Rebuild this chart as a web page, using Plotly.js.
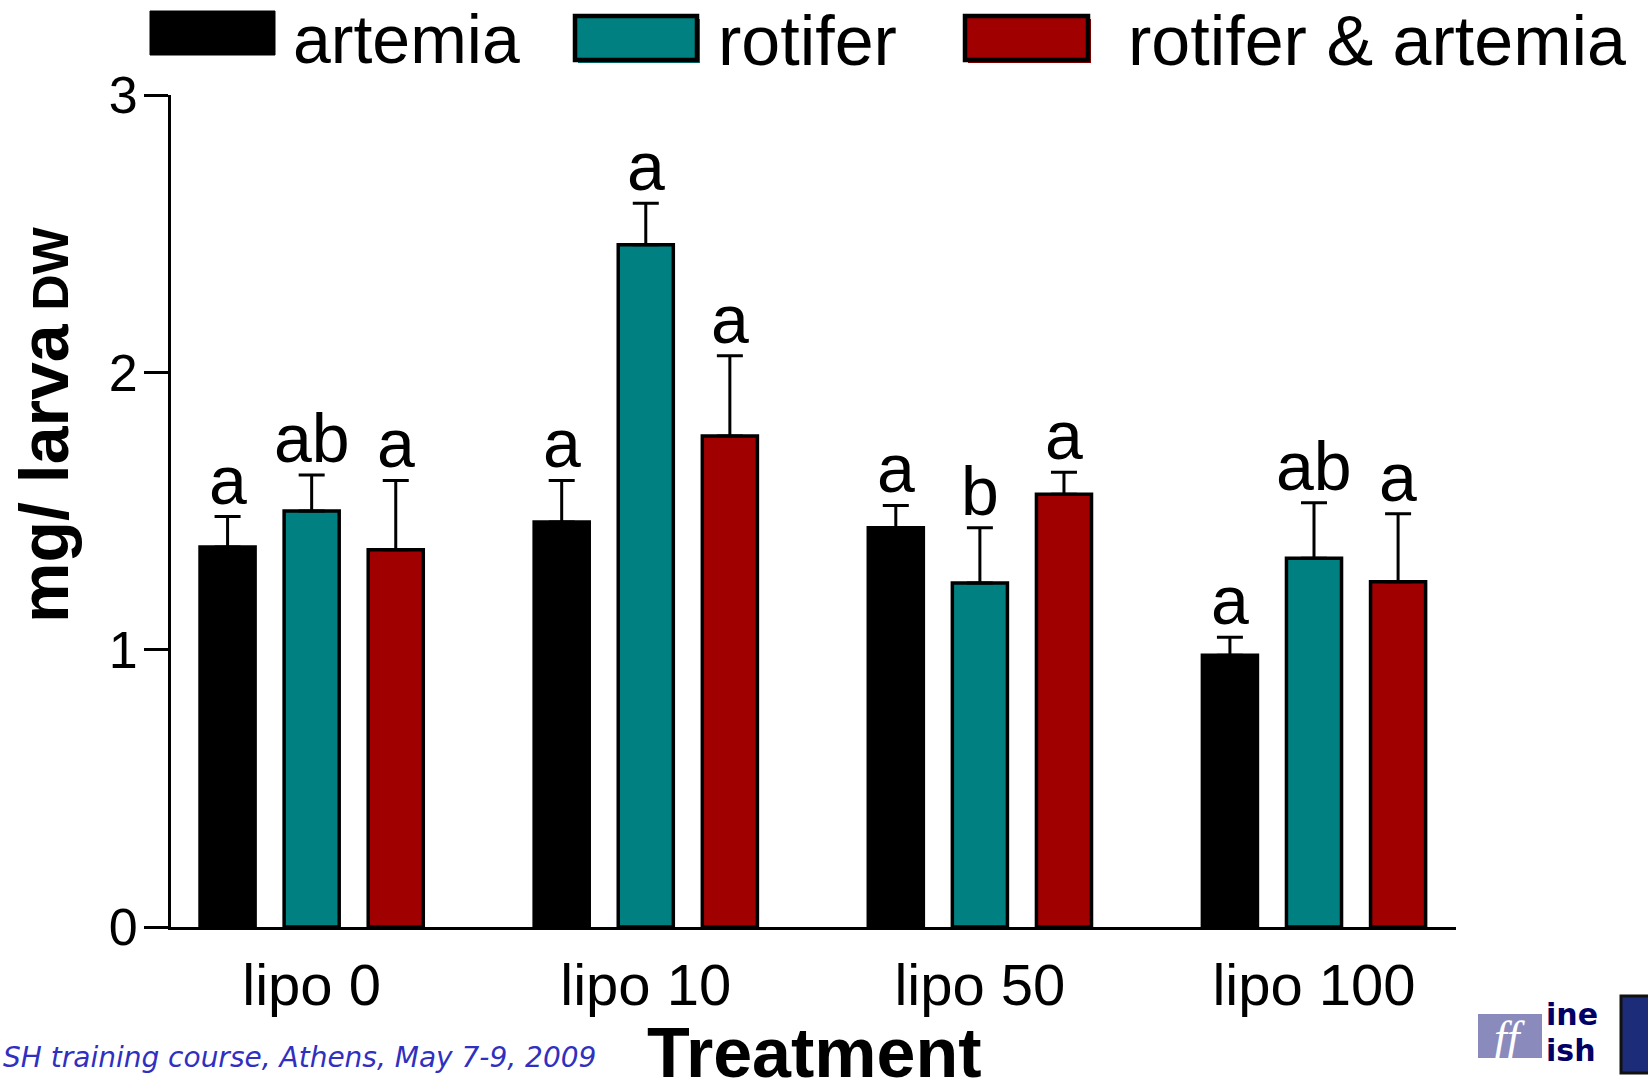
<!DOCTYPE html>
<html><head><meta charset="utf-8">
<script src="https://cdn.plot.ly/plotly-3.0.1.min.js"></script>
<style>html,body{margin:0;padding:0;background:#fff;} #chart{width:1648px;height:1092px;}</style>
</head><body><div id="chart"></div>
<script>
// ---- data ----
const categories = ['lipo 0', 'lipo 10', 'lipo 50', 'lipo 100'];
const seriesNames = ['artemia', 'rotifer', 'rotifer & artemia'];
const artemia = [1.37, 1.46, 1.44, 0.98];
const artemiaErr = [0.11, 0.15, 0.08, 0.065];
const rotifer = [1.50, 2.46, 1.24, 1.33];
const rotiferErr = [0.13, 0.15, 0.20, 0.20];
const rotArt = [1.36, 1.77, 1.56, 1.245];
const rotArtErr = [0.25, 0.29, 0.08, 0.245];
const artemiaLetters = ['a', 'a', 'a', 'a'];
const rotiferLetters = ['ab', 'a', 'b', 'ab'];
const rotArtLetters = ['a', 'a', 'a', 'a'];
const yTicks = [0, 1, 2, 3];
const yTitle = 'mg/ larva';
const yTitleUnit = 'DW';
const xTitle = 'Treatment';
const footer = 'SH training course, Athens, May 7-9, 2009';

// ---- geometry / style ----
const W = 1648, H = 1092;
const L = 171, R = 1456, T = 95, B = 927;
const px = v => (v - L) / (R - L);
const py = v => (B - v) / (B - T);
const xRange = [-0.421, 3.425];
const bargap = 0.245, bargroupgap = 0.345;
const colors = ['#000000', '#008080', '#a00000'];
const FONT = 'Liberation Sans, Arial, sans-serif';

const values = [artemia, rotifer, rotArt];
const errs = [artemiaErr, rotiferErr, rotArtErr];
const letters = [artemiaLetters, rotiferLetters, rotArtLetters];

const traces = values.map((v, s) => ({
  type: 'bar',
  name: seriesNames[s],
  x: categories,
  y: v,
  marker: {color: colors[s], line: {color: '#000', width: 3.5}},
  error_y: {type: 'data', symmetric: false, array: errs[s], arrayminus: v.map(() => 0),
            color: '#000', thickness: 3, width: 13},
  showlegend: false,
  hoverinfo: 'x+y+name'
}));

const catPx = (R - L) / (xRange[1] - xRange[0]);
const slotPx = catPx * (1 - bargap) / 3;

const annotations = [];
values.forEach((v, s) => {
  v.forEach((val, i) => {
    annotations.push({
      x: categories[i], y: val + errs[s][i], xref: 'x', yref: 'y',
      text: letters[s][i], showarrow: false, xanchor: 'center', yanchor: 'bottom',
      xshift: (s - 1) * slotPx, yshift: -3,
      font: {family: FONT, size: 68, color: '#000'}
    });
  });
});

// legend (manual, large swatches)
const legendText = [
  {t: seriesNames[0], x: 291, y: 39, s: 68},
  {t: seriesNames[1], x: 716, y: 41, s: 70},
  {t: seriesNames[2], x: 1126, y: 41, s: 70}
];
legendText.forEach(o => annotations.push({
  xref: 'paper', yref: 'paper', x: px(o.x), y: py(o.y), text: o.t, showarrow: false,
  xanchor: 'left', yanchor: 'middle', font: {family: FONT, size: o.s, color: '#000'}
}));

// axis titles
annotations.push({
  xref: 'paper', yref: 'paper', x: px(44), y: py(425), textangle: -90, showarrow: false,
  xanchor: 'center', yanchor: 'middle',
  text: '<b>' + yTitle + '<span style="font-size:50px"> ' + yTitleUnit + '</span></b>',
  font: {family: FONT, size: 68, color: '#000'}
});
annotations.push({
  xref: 'paper', yref: 'paper', x: px(814), y: py(1053), showarrow: false,
  xanchor: 'center', yanchor: 'middle', text: '<b>' + xTitle + '</b>',
  font: {family: FONT, size: 70, color: '#000'}
});
// footer
annotations.push({
  xref: 'paper', yref: 'paper', x: px(598), y: py(1057), showarrow: false,
  xanchor: 'right', yanchor: 'middle', text: '<i>' + footer + '</i>',
  font: {family: 'DejaVu Sans, Verdana, sans-serif', size: 28, color: '#3030c0'}
});
// logo texts
annotations.push({
  xref: 'paper', yref: 'paper', x: px(1510), y: py(1037), showarrow: false,
  xanchor: 'center', yanchor: 'middle', text: '<i>ff</i>',
  font: {family: 'Liberation Serif, serif', size: 46, color: '#ffffff'}
});
annotations.push({
  xref: 'paper', yref: 'paper', x: px(1545), y: py(1014), showarrow: false,
  xanchor: 'left', yanchor: 'middle', text: '<b>ine</b>', borderpad: 0,
  font: {family: 'DejaVu Sans, sans-serif', size: 30, color: '#000066'}
});
annotations.push({
  xref: 'paper', yref: 'paper', x: px(1545), y: py(1050), showarrow: false,
  xanchor: 'left', yanchor: 'middle', text: '<b>ish</b>', borderpad: 0,
  font: {family: 'DejaVu Sans, sans-serif', size: 30, color: '#000066'}
});

const rect = (x0, y0, x1, y1, fill, lc, lw) => ({
  type: 'rect', xref: 'paper', yref: 'paper', layer: 'above',
  x0: px(x0), x1: px(x1), y0: py(y1), y1: py(y0),
  fillcolor: fill, line: {color: lc, width: lw}
});
const shapes = [
  rect(150, 11, 275, 55, '#000000', '#000000', 1),
  rect(578, 19, 700, 63, '#008080', '#008080', 0),
  rect(575, 16, 697, 60, '#008080', '#000000', 4.5),
  rect(968, 19, 1091, 63, '#a00000', '#a00000', 0),
  rect(965, 16, 1088, 60, '#a00000', '#000000', 4.5),
  // logo
  rect(1478, 1014, 1542, 1058, '#8a8abd', '#8a8abd', 0),
  rect(1621, 996, 1652, 1073, '#1c2c78', '#111111', 3)
];

const layout = {
  width: W, height: H,
  margin: {l: L, r: W - R, t: T, b: H - B, pad: 0},
  paper_bgcolor: '#ffffff', plot_bgcolor: '#ffffff',
  barmode: 'group', bargap: bargap, bargroupgap: bargroupgap,
  showlegend: false,
  font: {family: FONT, color: '#000'},
  xaxis: {
    type: 'category', range: xRange, showline: true, linecolor: '#000', linewidth: 3,
    ticks: '', showgrid: false, zeroline: false, ticklabelstandoff: 5,
    tickfont: {family: FONT, size: 58, color: '#000'}, fixedrange: true
  },
  yaxis: {
    range: [0, 3], tickvals: yTicks, ticktext: yTicks.map(String),
    ticks: 'outside', ticklen: 24, tickwidth: 3, tickcolor: '#000',
    showline: true, linecolor: '#000', linewidth: 3, showgrid: false, zeroline: false,
    ticklabelstandoff: -4,
    tickfont: {family: FONT, size: 52, color: '#000'}, fixedrange: true
  },
  annotations: annotations,
  shapes: shapes
};

Plotly.newPlot('chart', traces, layout, {displayModeBar: false, staticPlot: true});
</script>
</body></html>
